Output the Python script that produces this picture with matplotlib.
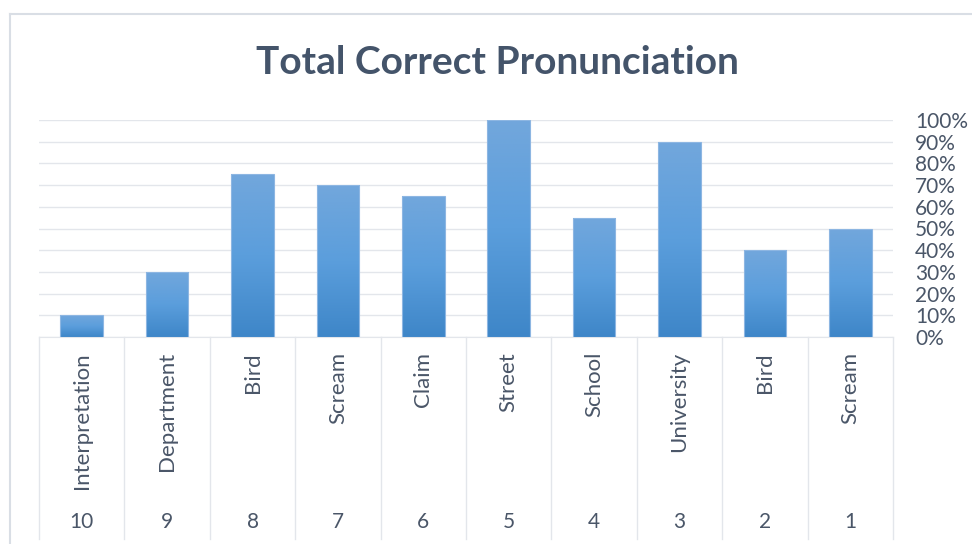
import numpy as np
import matplotlib.pyplot as plt
from matplotlib.colors import LinearSegmentedColormap
from matplotlib.ticker import PercentFormatter

plt.rcParams['font.family'] = ['Lato', 'DejaVu Sans']

# data
words = ['Interpretation', 'Department', 'Bird', 'Scream', 'Claim',
         'Street', 'School', 'University', 'Bird', 'Scream']
numbers = ['10', '9', '8', '7', '6', '5', '4', '3', '2', '1']
values = [0.10, 0.30, 0.75, 0.70, 0.65, 1.00, 0.55, 0.90, 0.40, 0.50]

text_col = '#4A5668'
grid_col = '#E3E6EB'

fig = plt.figure(figsize=(9.72, 5.44), dpi=100)
ax = fig.add_axes([39 / 972, 1 - 337 / 544, 854 / 972, 217 / 544])

x = np.arange(len(values))
bars = ax.bar(x, values, width=0.5, color='none', edgecolor='#8DB6E2', linewidth=0.8, zorder=3)

# vertical gradient inside each bar
cmap = LinearSegmentedColormap.from_list('bar', ['#3E86C8', '#5B9EDC', '#72A7DC'])
grad = np.linspace(0, 1, 256).reshape(-1, 1)
for b in bars:
    bx, by = b.get_x(), b.get_y()
    w, h = b.get_width(), b.get_height()
    im = ax.imshow(grad, cmap=cmap, origin='lower', aspect='auto',
                   extent=[bx, bx + w, by, by + h], zorder=2)
    im.set_clip_path(b)

ax.set_xlim(-0.5, len(values) - 0.5)
ax.set_ylim(0, 1)

ax.yaxis.tick_right()
ax.set_yticks(np.arange(0, 1.01, 0.1))
ax.yaxis.set_major_formatter(PercentFormatter(1.0, decimals=0))
ax.tick_params(axis='y', length=0, pad=16, labelsize=15, labelcolor=text_col)
ax.set_xticks([])
ax.grid(axis='y', color=grid_col, linewidth=1, zorder=0)
for s in ['top', 'left', 'right']:
    ax.spines[s].set_visible(False)
ax.spines['bottom'].set_color(grid_col)
ax.spines['bottom'].set_zorder(1)

# multi-level category axis
trans = ax.get_xaxis_transform()
sep_bottom = -(539 - 337) / 217
for i in range(len(values) + 1):
    ax.plot([i - 0.5, i - 0.5], [0, sep_bottom], transform=trans,
            color=grid_col, linewidth=1, clip_on=False)
for i in range(len(values)):
    ax.text(i, -(352 - 337) / 217, words[i], transform=trans, rotation=90,
            ha='center', va='top', fontsize=16, color=text_col)
    ax.text(i, -(522 - 337) / 217, numbers[i], transform=trans,
            ha='center', va='center', fontsize=15, color=text_col)

# title
fig.text(497 / 972, 1 - 62 / 544, 'Total Correct Pronunciation', ha='center', va='center',
         fontsize=28, fontweight='bold', color='#44546A')

# chart frame
fig.add_artist(plt.Line2D([10 / 972, 10 / 972], [0, 1 - 14 / 544], transform=fig.transFigure,
                          color='#D9DEE5', linewidth=1.5))
fig.add_artist(plt.Line2D([10 / 972, 1], [1 - 14 / 544, 1 - 14 / 544], transform=fig.transFigure,
                          color='#D9DEE5', linewidth=1.5))

fig.savefig('out.png', dpi=100)
